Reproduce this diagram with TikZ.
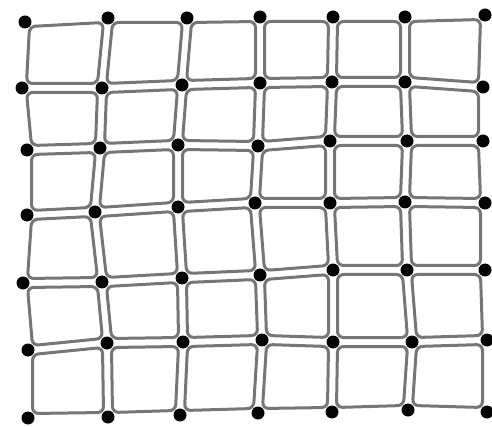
\documentclass[tikz,border=0pt]{standalone}
\usepackage{tikz}
\usetikzlibrary{calc,backgrounds}
\definecolor{lineGrey}{HTML}{767676}
\definecolor{dotInk}{HTML}{050505}

\begin{document}
\begin{tikzpicture}[x=1pt,y=1pt,
          dot/.style={circle,fill=dotInk,draw=none,
                      minimum size=13pt,inner sep=0pt},
          cell/.style={draw=lineGrey,line width=3pt,
                       rounded corners=6pt},
        ]
        \useasboundingbox (0,0) rectangle (492,-427);
        % lattice points, row by row (x/y as in the scan)
        \foreach \row [count=\r from 0] in {
            {25/22,108/18,187/18,260/17,333/17,405/17,485/15},
            {22/88,102/88,182/85,260/83,332/82,405/82,483/87},
            {27/150,100/148,178/145,258/146,330/141,407/141,483/141},
            {27/215,95/212,178/207,255/203,330/203,405/202,485/203},
            {23/283,102/282,182/278,260/275,333/270,407/270,485/270},
            {28/350,107/343,183/342,262/340,333/342,412/342,487/340},
            {28/418,108/417,180/415,258/413,332/412,408/410,487/412}} {
          \foreach \x/\y [count=\c from 0] in \row {
            \node[dot] (p-\r-\c) at (\x,-\y) {};
          }
        }
        % cells between the points
        \begin{scope}[on background layer]
          \foreach \r in {0,...,5} {
            \foreach \c in {0,...,5} {
              \pgfmathtruncatemacro{\rn}{\r+1}
              \pgfmathtruncatemacro{\cn}{\c+1}
              \draw[cell] ($(p-\r-\c)+(4.5,-4.5)$) -- ($(p-\r-\cn)+(-4.5,-4.5)$)
                -- ($(p-\rn-\cn)+(-4.5,4.5)$) -- ($(p-\rn-\c)+(4.5,4.5)$) -- cycle;
            }
          }
        \end{scope}
      \end{tikzpicture}
\end{document}
